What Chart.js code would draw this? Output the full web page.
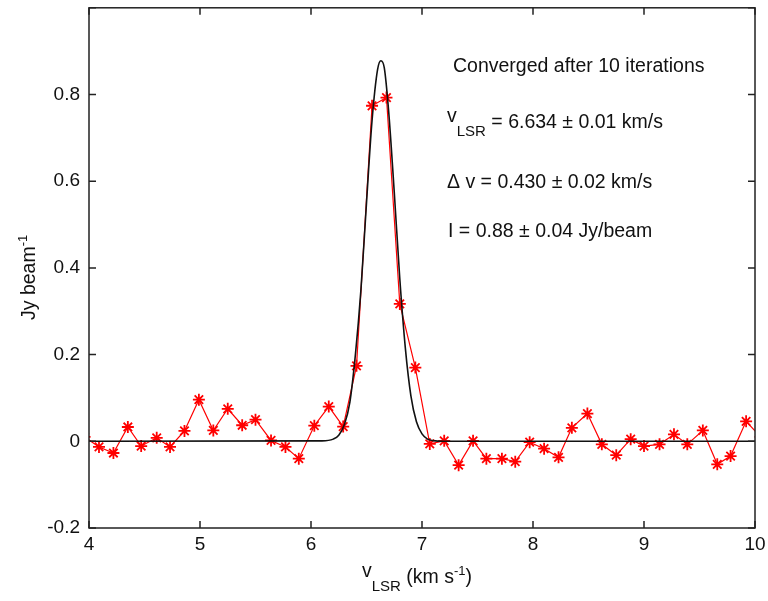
<!DOCTYPE html>
<html>
<head>
<meta charset="utf-8">
<script src="https://cdn.jsdelivr.net/npm/chart.js@4.4.1/dist/chart.umd.min.js"></script>
<style>
  body { margin: 0; background: #fff; }
  canvas { display: block; }
</style>
</head>
<body>
<canvas id="myChart" width="768" height="601"></canvas>
<script>
// measured spectrum (red stars)
const velocity = [3.96, 4.09, 4.22, 4.35, 4.47, 4.61, 4.73, 4.86, 4.99, 5.12, 5.25, 5.38,
  5.50, 5.64, 5.77, 5.89, 6.03, 6.16, 6.29, 6.41, 6.55, 6.68, 6.80, 6.94, 7.07, 7.20,
  7.33, 7.46, 7.58, 7.72, 7.84, 7.97, 8.10, 8.23, 8.35, 8.49, 8.62, 8.75, 8.88, 9.00,
  9.14, 9.27, 9.39, 9.53, 9.66, 9.78, 9.92, 10.05];
const flux = [0.010, -0.013, -0.027, 0.033, -0.011, 0.008, -0.013, 0.024, 0.096, 0.025, 0.075, 0.037,
  0.050, 0.002, -0.013, -0.040, 0.036, 0.080, 0.034, 0.174, 0.774, 0.793, 0.317, 0.170, -0.006, 0.001,
  -0.055, 0.001, -0.040, -0.040, -0.047, -0.002, -0.017, -0.037, 0.031, 0.064, -0.007, -0.032, 0.005, -0.011,
  -0.007, 0.016, -0.007, 0.025, -0.053, -0.034, 0.046, 0.010];

// fitted line (black curve)
const fitVelocity = [4.0, 6.10, 6.20, 6.25, 6.30, 6.35, 6.40, 6.45, 6.50, 6.55, 6.60, 6.63,
  6.66, 6.70, 6.75, 6.80, 6.85, 6.90, 6.95, 7.00, 7.05, 7.10, 7.20, 10.0];
const fitFlux = [0, 0.001, 0.005, 0.014, 0.038, 0.090, 0.200, 0.350, 0.550, 0.740, 0.858, 0.878,
  0.862, 0.760, 0.575, 0.375, 0.215, 0.105, 0.045, 0.017, 0.005, 0.0015, 0, 0];

const xTicks = [4, 5, 6, 7, 8, 9, 10];
const yTicks = [-0.2, 0, 0.2, 0.4, 0.6, 0.8, 1.0];

const FONT = '"Liberation Sans", Arial, sans-serif';

// draw pieces of text one after another, with sub/superscripts
function drawParts(ctx, parts, x, y) {
  parts.forEach((p) => {
    ctx.font = (p.size || 19.5) + "px " + FONT;
    ctx.fillText(p.t, x, y + (p.dy || 0));
    x += ctx.measureText(p.t).width;
  });
}

const framePlugin = {
  id: "frame",
  afterDraw(chart) {
    const ctx = chart.ctx;
    const a = chart.chartArea;
    const xs = chart.scales.x, ys = chart.scales.y;
    ctx.save();
    ctx.strokeStyle = "#222";
    ctx.lineWidth = 1.5;
    ctx.strokeRect(a.left, a.top, a.right - a.left, a.bottom - a.top);
    ctx.beginPath();
    xTicks.forEach((v) => {
      const px = xs.getPixelForValue(v);
      ctx.moveTo(px, a.bottom); ctx.lineTo(px, a.bottom - 7);
      ctx.moveTo(px, a.top); ctx.lineTo(px, a.top + 7);
    });
    yTicks.forEach((v) => {
      const py = ys.getPixelForValue(v);
      ctx.moveTo(a.left, py); ctx.lineTo(a.left + 7, py);
      ctx.moveTo(a.right, py); ctx.lineTo(a.right - 7, py);
    });
    ctx.stroke();

    ctx.fillStyle = "#111";
    ctx.textBaseline = "alphabetic";
    ctx.textAlign = "left";
    drawParts(ctx, [{ t: "Converged after 10 iterations" }], 453, 72);
    drawParts(ctx, [{ t: "v", dy: -6 }, { t: "LSR", dy: 8, size: 15 }, { t: " = 6.634 ± 0.01 km/s" }], 447, 128);
    drawParts(ctx, [{ t: "Δ v = 0.430 ± 0.02 km/s" }], 447, 188);
    drawParts(ctx, [{ t: "I = 0.88 ± 0.04 Jy/beam" }], 448, 237);

    // axis titles
    drawParts(ctx, [{ t: "v", dy: -6 }, { t: "LSR", dy: 8, size: 15 }, { t: " (km s" }, { t: "-1", dy: -8, size: 13 }, { t: ")" }], 362, 583);
    ctx.translate(35, 320);
    ctx.rotate(-Math.PI / 2);
    drawParts(ctx, [{ t: "Jy beam" }, { t: "-1", dy: -8, size: 13 }], 0, 0);
    ctx.restore();
  }
};

const ctx = document.getElementById("myChart").getContext("2d");
const myChart = new Chart(ctx, {
  type: "line",
  data: {
    datasets: [
      {
        label: "fit",
        data: fitVelocity.map((v, i) => ({ x: v, y: fitFlux[i] })),
        borderColor: "#111",
        borderWidth: 1.6,
        pointRadius: 0,
        cubicInterpolationMode: "monotone",
        fill: false
      },
      {
        label: "spectrum",
        data: velocity.map((v, i) => ({ x: v, y: flux[i] })),
        borderColor: "#ff0000",
        borderWidth: 1.2,
        pointStyle: "star",
        pointRadius: 6,
        pointBorderWidth: 1.8,
        pointBorderColor: "#ff0000",
        pointBackgroundColor: "#ff0000",
        tension: 0,
        fill: false
      }
    ]
  },
  options: {
    responsive: false,
    animation: false,
    layout: { padding: { top: 5, right: 13, left: 0, bottom: 0 } },
    plugins: { legend: { display: false }, tooltip: { enabled: false } },
    scales: {
      x: {
        type: "linear",
        min: 4,
        max: 10,
        grid: { display: false, drawTicks: false },
        border: { display: false },
        afterBuildTicks: (scale) => { scale.ticks = xTicks.map((v) => ({ value: v })); },
        afterFit: (scale) => { scale.height = 73; scale.paddingLeft = 0; scale.paddingRight = 0; },
        ticks: {
          color: "#111",
          font: { size: 19, family: FONT },
          padding: 5,
          maxRotation: 0,
          autoSkip: false,
          callback: (v) => String(v)
        }
      },
      y: {
        min: -0.2,
        max: 1.0,
        grid: { display: false, drawTicks: false },
        border: { display: false },
        afterBuildTicks: (scale) => { scale.ticks = yTicks.map((v) => ({ value: v })); },
        afterFit: (scale) => { scale.width = 89; scale.paddingTop = 0; scale.paddingBottom = 0; },
        ticks: {
          color: "#111",
          font: { size: 19, family: FONT },
          padding: 9,
          autoSkip: false,
          callback: (v) => (Math.abs(v - 1) < 1e-6 ? "" : String(Math.round(v * 10) / 10))
        }
      }
    }
  },
  plugins: [framePlugin]
});
</script>
</body>
</html>
